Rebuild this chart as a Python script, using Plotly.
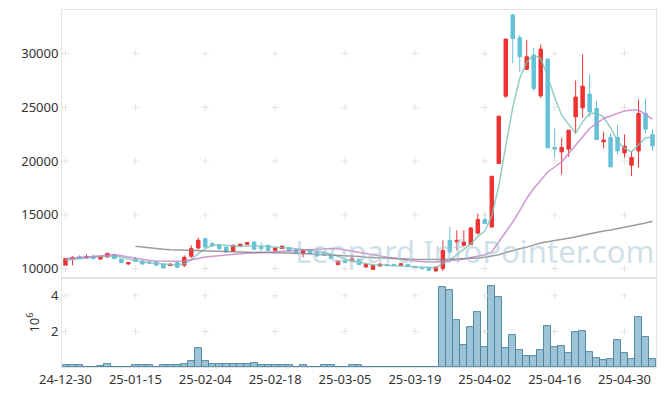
import plotly.graph_objects as go
from plotly.subplots import make_subplots

dates = [
    "24-12-30", "25-01-02", "25-01-03", "25-01-06", "25-01-07", "25-01-08", "25-01-09", "25-01-10",
    "25-01-13", "25-01-14", "25-01-15", "25-01-16", "25-01-17", "25-01-20", "25-01-21", "25-01-22",
    "25-01-23", "25-01-24", "25-01-31", "25-02-03", "25-02-04", "25-02-05", "25-02-06", "25-02-07",
    "25-02-10", "25-02-11", "25-02-12", "25-02-13", "25-02-14", "25-02-17", "25-02-18", "25-02-19",
    "25-02-20", "25-02-21", "25-02-24", "25-02-25", "25-02-26", "25-02-27", "25-02-28", "25-03-04",
    "25-03-05", "25-03-06", "25-03-07", "25-03-10", "25-03-11", "25-03-12", "25-03-13", "25-03-14",
    "25-03-17", "25-03-18", "25-03-19", "25-03-20", "25-03-21", "25-03-24", "25-03-25", "25-03-26",
    "25-03-27", "25-03-28", "25-03-31", "25-04-01", "25-04-02", "25-04-03", "25-04-04", "25-04-07",
    "25-04-08", "25-04-09", "25-04-10", "25-04-11", "25-04-14", "25-04-15", "25-04-16", "25-04-17",
    "25-04-18", "25-04-21", "25-04-22", "25-04-23", "25-04-24", "25-04-25", "25-04-28", "25-04-29",
    "25-04-30", "25-05-02", "25-05-07", "25-05-08", "25-05-09",
]

open_ = [10310, 10890, 11120, 10990, 11150, 10890, 11080, 11330, 10890, 10430,
         10870, 10710, 10610, 10610, 10430, 10280, 10560, 10310, 11150, 11920,
         12790, 12330, 12170, 12010, 11610, 12100, 12260, 12480, 12010, 12170,
         11700, 11860, 11960, 11770, 11400, 11770, 11610, 11490, 11300, 10370,
         10770, 10680, 10870, 10150, 9930, 10240, 10400, 10400, 10310, 10400,
         10210, 10060, 10090, 9780, 10000, 12630, 12480, 12170, 12230, 13310,
         14560, 13870, 19780, 26040, 33580, 31470, 28530, 29860, 26070, 29490,
         21270, 20860, 21110, 24110, 24950, 26230, 24900, 21790, 22200, 22200,
         20760, 19620, 20950, 24430, 22480]
high = [10980, 11150, 11250, 11330, 11300, 11150, 11480, 11360, 10900, 10600,
        11080, 10730, 10770, 10650, 10450, 10460, 10590, 11240, 12170, 12890,
        12820, 12480, 12260, 12040, 12240, 12330, 12480, 12560, 12420, 12200,
        11950, 12170, 12000, 11800, 11830, 11800, 11650, 11520, 11330, 10740,
        10800, 11300, 10900, 10430, 10340, 10460, 10430, 10430, 10490, 10430,
        10240, 10090, 10120, 10180, 12630, 13870, 13560, 13560, 13870, 15120,
        15270, 18590, 24180, 31350, 33700, 31720, 31250, 30540, 30850, 29550,
        23030, 22160, 22880, 27500, 29920, 28060, 25600, 22720, 22600, 23340,
        22480, 20920, 25730, 25830, 22970]
low = [10250, 10310, 10930, 10960, 10850, 10860, 11050, 10900, 10560, 10380,
       10620, 10400, 10400, 10280, 10030, 10250, 10090, 10150, 11000, 11770,
       11950, 12050, 11700, 11520, 11580, 12050, 12230, 11770, 11650, 11650,
       11650, 11830, 11600, 11420, 11050, 11370, 11140, 11200, 10900, 10340,
       10530, 10650, 10340, 10120, 9900, 10210, 10250, 10250, 10280, 10160,
       10030, 9940, 9810, 9750, 9780, 11400, 11700, 12050, 12200, 13170,
       14190, 13870, 19780, 25880, 29090, 28300, 28460, 26500, 25880, 21230,
       20330, 18750, 20390, 22570, 24020, 24110, 22010, 21170, 19460, 20640,
       20240, 18620, 19400, 22570, 20950]
close = [10930, 11050, 10960, 11120, 10930, 11120, 11420, 10930, 10560, 10560,
         10680, 10430, 10520, 10310, 10060, 10430, 10120, 11050, 11860, 12630,
         12010, 12100, 11860, 11550, 12170, 12260, 12420, 11800, 11860, 11700,
         11920, 12080, 11640, 11490, 11770, 11400, 11170, 11240, 10930, 10710,
         10560, 10930, 10370, 10400, 10310, 10430, 10280, 10280, 10460, 10190,
         10060, 10000, 9840, 10150, 11700, 11550, 12630, 12480, 13780, 14560,
         14190, 18590, 24180, 31350, 31410, 29700, 29700, 26760, 30420, 21230,
         21110, 21270, 22880, 25950, 26970, 24580, 22010, 21950, 19460, 20950,
         21390, 20330, 24430, 22970, 21410]

ma5 = [10770, 10850, 10930, 11000, 11080, 11120, 11150, 11150, 11050, 10900,
       10710, 10620, 10540, 10470, 10400, 10380, 10370, 10450, 10840, 11400,
       11860, 12170, 12230, 12150, 12080, 12050, 12100, 12120, 12100, 12050,
       11980, 11950, 11920, 11860, 11780, 11700, 11620, 11550, 11350, 11150,
       10900, 10680, 10600, 10480, 10370, 10330, 10300, 10260, 10240, 10200,
       10150, 10080, 10060, 10080, 10500, 10800, 11300, 11800, 12300, 13000,
       13500, 14900, 17700, 21400, 25000, 27700, 29200, 29850, 29550, 27900,
       25900, 24270, 23400, 22600, 23650, 24400, 24500, 24100, 23100, 21850,
       21200, 20860, 21500, 22180, 22220]
ma20 = [10930, 10990, 11050, 11100, 11160, 11220, 11280, 11300, 11200, 11080,
        10950, 10850, 10760, 10700, 10680, 10670, 10680, 10720, 10800, 10950,
        11080, 11150, 11200, 11260, 11330, 11380, 11420, 11460, 11500, 11550,
        11590, 11630, 11680, 11730, 11770, 11800, 11840, 11860, 11870, 11850,
        11750, 11650, 11530, 11400, 11280, 11170, 11060, 10950, 10860, 10780,
        10720, 10660, 10620, 10620, 10660, 10700, 10800, 10900, 11020, 11150,
        11300, 11550, 12480, 13410, 14340, 15400, 16520, 17450, 18220, 18990,
        19450, 19930, 20700, 21480, 22250, 23030, 23500, 23960, 24200, 24430,
        24670, 24740, 24740, 24340, 23870]
ma_long = [None] * 10 + [
    12080, 12000, 11930, 11860, 11800, 11760, 11730, 11700, 11680, 11650,
    11640, 11620, 11600, 11580, 11560, 11550, 11540, 11520, 11510, 11490,
    11480, 11460, 11440, 11420, 11400, 11370, 11340, 11310, 11280, 11260,
    11220, 11170, 11120, 11070, 11030, 11000, 10970, 10940, 10910, 10890,
    10870, 10850, 10840, 10850, 10860, 10880, 10900, 10920, 10960, 11000,
    11060, 11180, 11300, 11500, 11700, 11850, 12000, 12200, 12380, 12500,
    12600, 12720, 12830, 12950, 13100, 13250, 13400, 13500, 13600, 13720,
    13830, 13970, 14100, 14250, 14400]

volume = [0.08, 0.08, 0.08, 0, 0, 0.06, 0.15, 0, 0, 0,
          0.08, 0.08, 0.08, 0, 0.08, 0.08, 0.08, 0.15, 0.35, 1.07,
          0.35, 0.15, 0.15, 0.15, 0.15, 0.15, 0.15, 0.24, 0.1, 0.1,
          0.1, 0.1, 0.1, 0, 0.08, 0, 0, 0.08, 0.08, 0,
          0, 0.08, 0.08, 0, 0, 0, 0, 0, 0, 0,
          0, 0, 0, 0, 4.5, 4.33, 2.61, 1.22, 2.22, 3.06,
          1.11, 4.56, 3.94, 1.06, 1.78, 0.94, 0.61, 0.61, 0.94, 2.28,
          1.11, 1.17, 0.78, 1.94, 2.0, 0.83, 0.5, 0.39, 0.44, 1.5,
          0.78, 0.44, 2.78, 1.67, 0.44]

price_ticks = [10000, 15000, 20000, 25000, 30000]
vol_ticks = [2, 4]
x_ticks = list(range(0, 81, 10))

idx = list(range(len(dates)))

RED = "#EE3333"
BLUE = "#66C0DA"
GRIDC = "#E4E4E4"
FRAME = "#E3E3E3"
FONT = "Noto Sans"

fig = make_subplots(rows=2, cols=1, shared_xaxes=True, vertical_spacing=0,
                    row_heights=[0.751, 0.249])

# grid crosses at tick intersections
gx = [x for x in x_ticks for _ in price_ticks]
gy = [y for _ in x_ticks for y in price_ticks]
fig.add_trace(go.Scatter(x=gx, y=gy, mode="markers", hoverinfo="skip",
                         marker=dict(symbol="cross-thin", size=5,
                                     line=dict(color=GRIDC, width=1))),
              row=1, col=1)
gx2 = [x for x in x_ticks for _ in vol_ticks]
gy2 = [y for _ in x_ticks for y in vol_ticks]
fig.add_trace(go.Scatter(x=gx2, y=gy2, mode="markers", hoverinfo="skip",
                         marker=dict(symbol="cross-thin", size=5,
                                     line=dict(color=GRIDC, width=1))),
              row=2, col=1)

fig.add_trace(go.Candlestick(
    x=idx, open=open_, high=high, low=low, close=close,
    increasing=dict(line=dict(color=RED, width=1), fillcolor=RED),
    decreasing=dict(line=dict(color=BLUE, width=1), fillcolor=BLUE),
    whiskerwidth=0, showlegend=False), row=1, col=1)

fig.add_trace(go.Scatter(x=idx, y=ma5, mode="lines",
                         line=dict(color="rgba(120,195,185,0.8)", width=1.5)), row=1, col=1)
fig.add_trace(go.Scatter(x=idx, y=ma20, mode="lines",
                         line=dict(color="rgba(195,125,195,0.8)", width=1.5)), row=1, col=1)
fig.add_trace(go.Scatter(x=idx, y=ma_long, mode="lines",
                         line=dict(color="rgba(130,130,130,0.8)", width=1.5)), row=1, col=1)

fig.add_trace(go.Bar(x=idx, y=volume, width=1,
                     marker=dict(color="rgba(140,185,205,0.85)",
                                 line=dict(color="rgba(70,130,160,0.9)", width=1))),
              row=2, col=1)

fig.update_xaxes(range=[-0.5, 84.5], showgrid=False, zeroline=False,
                 showline=True, mirror=True, linecolor=FRAME, linewidth=1,
                 tickvals=x_ticks, ticktext=[dates[i] for i in x_ticks],
                 ticks="", rangeslider=dict(visible=False))
fig.update_xaxes(showticklabels=False, row=1, col=1)
fig.update_xaxes(showticklabels=True, tickfont=dict(size=13, color="#333", family=FONT),
                 row=2, col=1)

fig.update_yaxes(range=[9120, 34050], tickvals=price_ticks, tickformat="d",
                 showgrid=False, zeroline=False,
                 showline=True, mirror=True, linecolor=FRAME, ticks="",
                 tickfont=dict(size=13, color="#333", family=FONT), row=1, col=1)
fig.update_yaxes(range=[0, 5], tickvals=vol_ticks, showgrid=False, zeroline=False,
                 showline=True, mirror=True, linecolor=FRAME, ticks="",
                 tickfont=dict(size=13, color="#333", family=FONT),
                 title=dict(text="10<sup>6</sup>", font=dict(size=13, color="#333", family=FONT),
                            standoff=8),
                 row=2, col=1)

fig.add_annotation(text="Leopard InfoPointer.com", xref="paper", yref="paper",
                   x=0.695, y=0.325, xanchor="center", yanchor="middle", showarrow=False,
                   font=dict(size=31, color="rgba(165,198,215,0.55)", family=FONT))

fig.update_layout(width=665, height=396, margin=dict(l=62, r=9, t=10, b=29),
                  paper_bgcolor="white", plot_bgcolor="white", showlegend=False,
                  bargap=0)

fig.write_html("out.html", config={"displayModeBar": False},
               post_script="document.body.style.margin='0px';document.body.style.overflow='hidden';")
